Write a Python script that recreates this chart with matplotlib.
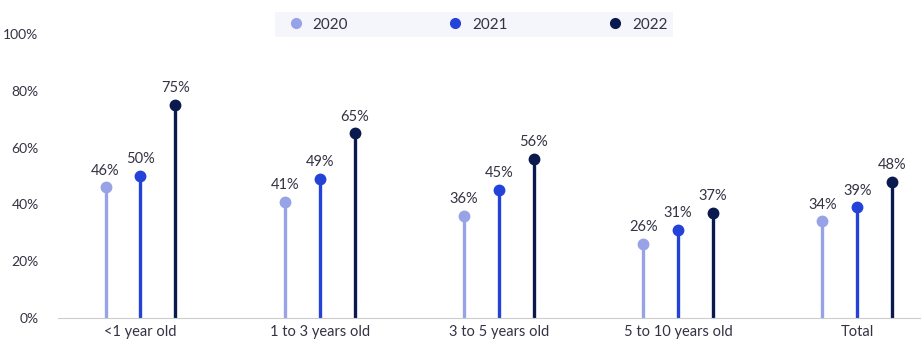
import numpy as np
import matplotlib.pyplot as plt
from matplotlib.lines import Line2D

categories = ['<1 year old', '1 to 3 years old', '3 to 5 years old', '5 to 10 years old', 'Total']
years = ['2020', '2021', '2022']
v2020 = [46, 41, 36, 26, 34]
v2021 = [50, 49, 45, 31, 39]
v2022 = [75, 65, 56, 37, 48]

colors = ['#97a3e6', '#2442d8', '#0b1a4e']
offsets = [-0.195, 0, 0.195]
txt = '#333344'

plt.rcParams['font.family'] = ['Lato', 'DejaVu Sans']

fig = plt.figure(figsize=(9.24, 3.53), dpi=100)
ax = fig.add_axes([0.0628, 0.0992, 0.9329, 0.8045])

x = np.arange(len(categories))
for vals, c, off in zip([v2020, v2021, v2022], colors, offsets):
    xs = x + off
    ax.vlines(xs, 0, vals, color=c, linewidth=2.4, zorder=2)
    ax.plot(xs, vals, 'o', color=c, markersize=7.5, zorder=3)
    for xi, v in zip(xs, vals):
        ax.annotate(f'{v}%', (xi, v), xytext=(0, 7), textcoords='offset points',
                    ha='center', va='bottom', fontsize=10.5, color=txt)

ax.set_xlim(-0.46, 4.35)
ax.set_ylim(0, 100)
ax.set_yticks(range(0, 101, 20))
ax.set_yticklabels([f'{t}%' for t in range(0, 101, 20)])
ax.set_xticks(x)
ax.set_xticklabels(categories)
ax.tick_params(axis='both', length=0, labelsize=10.5, labelcolor=txt)
ax.tick_params(axis='y', pad=14, labelsize=10)
ax.tick_params(axis='x', pad=5)
for s in ['top', 'right', 'left']:
    ax.spines[s].set_visible(False)
ax.spines['bottom'].set_color('#cccccc')

handles = [Line2D([], [], marker='o', linestyle='', color=c, markersize=7) for c in colors]
leg = fig.legend(handles, years, loc='lower left', ncol=3, mode='expand',
                 bbox_to_anchor=(0.2976, 0.895, 0.4308, 0.077),
                 frameon=True, facecolor='#f3f4fb', edgecolor='none', fancybox=False,
                 fontsize=11, handletextpad=0.1, borderaxespad=0, borderpad=0.35)
for t in leg.get_texts():
    t.set_color(txt)

fig.savefig('out.png', dpi=100)
